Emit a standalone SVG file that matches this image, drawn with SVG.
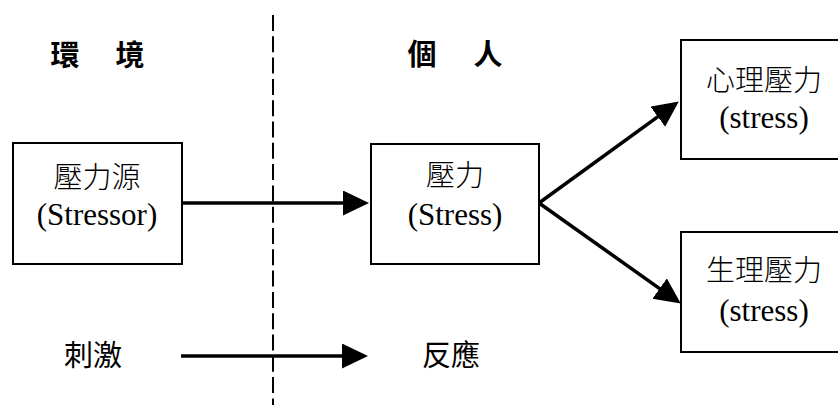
<svg xmlns="http://www.w3.org/2000/svg" width="838" height="405" viewBox="0 0 838 405">
<style>
.box{fill:#fff;stroke:#000;stroke-width:2}
.t{font-family:"Noto Sans CJK TC","Noto Sans CJK SC",serif;font-size:29px;font-weight:300;fill:#000;text-anchor:middle}
.e{font-family:"Liberation Serif","Times New Roman",serif;font-size:31px;fill:#000;text-anchor:middle}
.h{font-family:"Noto Sans CJK TC","Noto Sans CJK SC",sans-serif;font-size:29px;font-weight:700;fill:#000;text-anchor:middle}
.l{font-family:"Noto Sans CJK TC","Noto Sans CJK SC",sans-serif;font-size:29px;fill:#000;text-anchor:middle}
.arr{stroke:#000;stroke-width:3.5;fill:none}
</style>
<defs>
<marker id="ah" markerUnits="userSpaceOnUse" markerWidth="26" markerHeight="26" viewBox="0 0 26 26" refX="13" refY="12.5" orient="auto">
<path d="M0,0 L26,12.5 L0,25 z" fill="#000"/>
</marker>
</defs>
<rect width="838" height="405" fill="#fff"/>
<line x1="273" y1="15" x2="273" y2="405" stroke="#000" stroke-width="2" stroke-dasharray="16,5.3"/>
<g id="header-env">
<text class="h" x="65" y="66">環</text>
<text class="h" x="130" y="66">境</text>
</g>
<g id="header-ind">
<text class="h" x="422" y="65">個</text>
<text class="h" x="488" y="65">人</text>
</g>
<g id="stressor">
<rect class="box" x="13" y="143" width="169" height="121"/>
<text class="t" x="97" y="188">壓力源</text>
<text class="e" x="97" y="225">(Stressor)</text>
</g>
<g id="stress">
<rect class="box" x="371" y="144" width="168" height="120"/>
<text class="t" x="455" y="186">壓力</text>
<text class="e" x="455" y="225">(Stress)</text>
</g>
<g id="psych">
<rect class="box" x="681" y="40" width="170" height="119"/>
<text class="t" x="764" y="91">心理壓力</text>
<text class="e" x="764" y="128">(stress)</text>
</g>
<g id="phys">
<rect class="box" x="681" y="232" width="170" height="120"/>
<text class="t" x="764" y="281">生理壓力</text>
<text class="e" x="764" y="321">(stress)</text>
</g>
<g id="stimulus"><text class="l" x="93" y="366">刺激</text></g>
<g id="response"><text class="l" x="451" y="366">反應</text></g>
<g id="connectors">
<line class="arr" x1="182" y1="203" x2="356" y2="203" marker-end="url(#ah)"/>
<line class="arr" x1="539" y1="203" x2="668.3" y2="109.1" marker-end="url(#ah)"/>
<line class="arr" x1="539" y1="203" x2="670.2" y2="296.1" marker-end="url(#ah)"/>
<line class="arr" x1="181" y1="356" x2="355" y2="356" marker-end="url(#ah)"/>
</g>
</svg>
